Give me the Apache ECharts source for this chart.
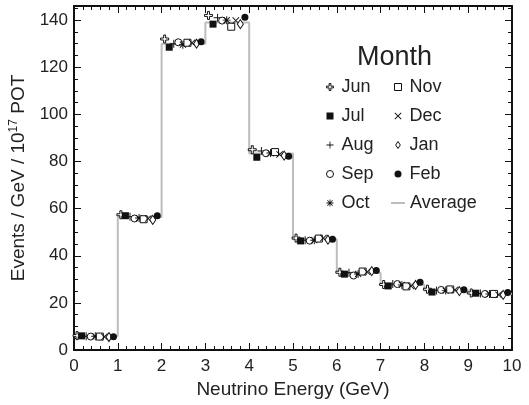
<!DOCTYPE html>
<html>
<head>
<meta charset="utf-8">
<script src="https://cdn.jsdelivr.net/npm/echarts@6/dist/echarts.min.js"></script>
<style>
html,body{margin:0;padding:0;background:#fff;}
#c{width:529px;height:405px;}
</style>
</head>
<body>
<div id="c"></div>
<script>
// ---- data ----
var months = ['Jun','Jul','Aug','Sep','Oct','Nov','Dec','Jan','Feb'];
var binEdges = [0,1,2,3,4,5,6,7,8,9,10];
// horizontal spread of the monthly points inside each 1 GeV bin (GeV)
var monthOffset = [0.07,0.174,0.278,0.382,0.486,0.59,0.694,0.798,0.902];
var average = [5.8,56.4,130,139,83.4,47,32.8,27.7,25.3,23.9];
var Jun = [6.1,57.4,132.0,142.0,85.0,47.5,33.0,27.8,25.8,24.2];
var Jul = [6.0,57.0,128.5,138.3,81.8,46.3,32.2,27.2,24.6,24.1];
var Aug = [5.8,56.6,130.0,141.0,84.5,46.6,32.8,28.0,25.2,24.0];
var Sep = [5.7,55.8,130.6,139.8,83.5,46.4,31.6,28.0,25.5,23.8];
var Oct = [5.8,56.0,129.6,140.0,83.6,46.6,32.3,27.6,25.2,23.8];
var Nov = [5.7,55.5,130.4,137.2,84.0,47.3,33.3,27.0,25.7,23.8];
var Dec = [5.6,55.8,130.4,139.8,83.0,47.5,33.2,27.2,25.5,23.4];
var Jan = [5.5,55.2,130.0,138.3,82.5,46.8,33.5,27.6,25.0,23.4];
var Feb = [5.6,57.0,130.8,141.2,82.2,47.0,33.7,28.8,25.6,24.4];
var xTicks = [0,1,2,3,4,5,6,7,8,9,10];
var yTicks = [0,20,40,60,80,100,120,140];

var monthValues = [Jun,Jul,Aug,Sep,Oct,Nov,Dec,Jan,Feb];

// ---- styles ----
var FONT = '"Liberation Sans", Arial, Helvetica, sans-serif';
var openPlus = 'path://M3,0L5,0L5,3L8,3L8,5L5,5L5,8L3,8L3,5L0,5L0,3L3,3Z';
var thinPlus = 'path://M4.4,0L5.6,0L5.6,4.4L10,4.4L10,5.6L5.6,5.6L5.6,10L4.4,10L4.4,5.6L0,5.6L0,4.4L4.4,4.4Z';
var star = 'path://M4.4,0L5.6,0L5.6,10L4.4,10ZM0,4.4L10,4.4L10,5.6L0,5.6ZM0.8,1.6L1.6,0.8L9.2,8.4L8.4,9.2ZM8.4,0.8L9.2,1.6L1.6,9.2L0.8,8.4Z';
var cross = 'path://M0,0.9L0.9,0L10,9.1L9.1,10ZM9.1,0L10,0.9L0.9,10L0,9.1Z';
var sym = [
  {s: openPlus, size: 8, fill: '#fff', border: 1, legendIcon: openPlus},
  {s: 'rect', size: 7, fill: '#111', border: 0, legendIcon: 'rect'},
  {s: thinPlus, size: 8, fill: '#111', border: 0, legendIcon: thinPlus},
  {s: 'circle', size: 7, fill: '#fff', border: 1, legendIcon: 'circle'},
  {s: star, size: 8, fill: '#111', border: 0, legendIcon: star},
  {s: 'rect', size: 7, fill: '#fff', border: 1, legendIcon: 'rect'},
  {s: cross, size: 7, fill: '#111', border: 0, legendIcon: cross},
  {s: 'diamond', size: [6,9], fill: '#fff', border: 1, legendIcon: 'path://M3,0L6,4.5L3,9L0,4.5Z'},
  {s: 'circle', size: 7, fill: '#111', border: 0, legendIcon: 'circle'}
];

var series = [];
var avgData = [];
for (var b = 0; b < average.length; b++) avgData.push([binEdges[b], average[b]]);
avgData.push([binEdges[average.length], average[average.length-1]]);
series.push({
  name: 'Average', type: 'line', step: 'end', data: avgData,
  symbol: 'none', showSymbol: false, z: 1,
  lineStyle: {color: '#bdbdbd', width: 2},
  itemStyle: {color: '#bdbdbd'}
});
months.forEach(function(m, i) {
  var d = monthValues[i].map(function(v, b) { return [binEdges[b] + monthOffset[i], v]; });
  series.push({
    name: m, type: 'scatter', data: d, z: 3,
    symbol: sym[i].s, symbolSize: sym[i].size,
    itemStyle: {color: sym[i].fill, borderColor: '#111', borderWidth: sym[i].border, opacity: 1}
  });
});

function legendItems(from, to) {
  var out = [];
  for (var i = from; i < to; i++) {
    out.push({
      name: months[i], icon: sym[i].legendIcon,
      itemStyle: {color: sym[i].fill, borderColor: '#111', borderWidth: sym[i].border}
    });
  }
  return out;
}

function xAxisDef(pos, labels) {
  return {
    type: 'value', min: 0, max: 10, interval: 1, position: pos,
    axisLine: {show: true, onZero: false, lineStyle: {color: '#111', width: 2}},
    axisTick: {show: true, inside: true, length: 7, lineStyle: {color: '#111', width: 1}},
    minorTick: {show: true, splitNumber: 5, length: 4, lineStyle: {color: '#111', width: 1}},
    splitLine: {show: false},
    axisLabel: {show: labels, margin: 8, fontSize: 17, color: '#222', fontFamily: FONT,
      formatter: function(v) { return xTicks.indexOf(v) >= 0 ? String(v) : ''; }},
    name: labels ? 'Neutrino Energy (GeV)' : '',
    nameLocation: 'middle', nameGap: 30,
    nameTextStyle: {fontSize: 19, color: '#222', fontFamily: FONT}
  };
}
function yAxisDef(pos, labels) {
  return {
    type: 'value', min: 0, max: 146, interval: 20, position: pos,
    axisLine: {show: true, onZero: false, lineStyle: {color: '#111', width: 2}},
    axisTick: {show: true, inside: true, length: 7, lineStyle: {color: '#111', width: 1}},
    minorTick: {show: true, splitNumber: 4, length: 4, lineStyle: {color: '#111', width: 1}},
    splitLine: {show: false},
    axisLabel: {show: labels, margin: 6, fontSize: 17, color: '#222', fontFamily: FONT, showMaxLabel: false,
      formatter: function(v) { return yTicks.indexOf(v) >= 0 ? String(v) : ''; }},
    name: labels ? '{a|Events / GeV / 10}{s|17}{a| POT}' : '',
    nameLocation: 'middle', nameGap: 44, nameRotate: 90,
    nameTextStyle: {color: '#222', fontFamily: FONT, fontSize: 19,
      rich: {
        a: {fontSize: 19, color: '#222', fontFamily: FONT},
        s: {fontSize: 12, color: '#222', fontFamily: FONT, padding: [0,0,10,0]}
      }}
  };
}

var chart = echarts.init(document.getElementById('c'), null, {renderer: 'canvas'});
var legendText = {fontSize: 18, color: '#222', fontFamily: FONT, padding: [0,0,0,3]};
chart.setOption({
  animation: false,
  backgroundColor: '#fff',
  grid: {left: 74, right: 17, top: 6, bottom: 55, containLabel: false},
  title: {text: 'Month', left: 352, top: 39,
    textStyle: {fontSize: 27, fontWeight: 'normal', color: '#222', fontFamily: FONT}},
  legend: [
    {data: legendItems(0,5), orient: 'vertical', left: 321, top: 73,
     itemWidth: 7, itemHeight: 7, itemGap: 11, textStyle: legendText, selectedMode: false},
    {data: legendItems(5,9), orient: 'vertical', left: 389, top: 73,
     itemWidth: 7, itemHeight: 7, itemGap: 11, textStyle: legendText, selectedMode: false},
    {data: [{name: 'Average', icon: 'rect', itemStyle: {color: '#bdbdbd', borderWidth: 0}}],
     orient: 'vertical', left: 386, top: 189,
     itemWidth: 14, itemHeight: 2, textStyle: {fontSize: 18, color: '#222', fontFamily: FONT}, selectedMode: false}
  ],
  xAxis: [xAxisDef('bottom', true), xAxisDef('top', false)],
  yAxis: [yAxisDef('left', true), yAxisDef('right', false)],
  series: series
});
</script>
</body>
</html>
